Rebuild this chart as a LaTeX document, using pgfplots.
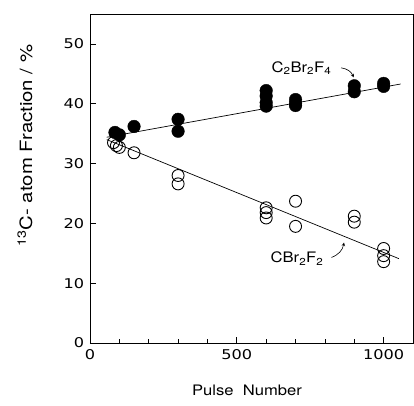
\documentclass[border=0pt]{standalone}
\usepackage{pgfplots}
\pgfplotsset{compat=1.18}
\usepackage{fontspec}
\setmainfont{TeX Gyre Heros}
\newfontfamily\widenum[FakeStretch=1.2]{DejaVu Sans}
\newfontfamily\widetxt[FakeStretch=1.15]{TeX Gyre Heros}
\newfontfamily\widelab[FakeStretch=1.2]{TeX Gyre Heros}
\begin{document}
\fontsize{14}{16}\selectfont
\begin{tikzpicture}
\begin{axis}[
  scale only axis, width=323bp, height=329bp,
  xmin=0, xmax=1100, ymin=0, ymax=55,
  xtick={0,500,1000}, minor xtick={100,200,300,400,600,700,800,900},
  ytick={0,10,20,30,40,50},
  tick align=inside, xtick pos=bottom, ytick pos=left,
  major tick length=6bp, minor tick length=4bp,
  every tick/.style={black, line width=0.8pt},
  axis line style={line width=0.8pt},
  /pgf/number format/assume math mode=true,
  /pgf/number format/1000 sep={},
  tick label style={font=\widenum\fontsize{13.5}{16}\selectfont},
  xticklabel style={yshift=-2bp},
  yticklabel style={xshift=-1bp},
  clip=false,
]
% fitted lines
\addplot[black, line width=0.7pt] coordinates {(57,34.4) (1058,43.3)};
\addplot[black, line width=0.7pt] coordinates {(57,34.0) (1052,14.1)};
% C2Br2F4 (filled)
\addplot[only marks, mark=*, mark size=6.3bp, mark options={fill=black, draw=black}] coordinates {
(85,35.2) (100,34.8) (150,36.2)
(300,37.4) (300,35.4)
(600,42.2) (600,41.3) (600,40.2) (600,39.6)
(700,40.7) (700,40.0) (700,39.7)
(900,43.0) (900,42.0)
(1000,43.4) (1000,42.9)
};
% CBr2F2 (open)
\addplot[only marks, mark=o, mark size=6bp, mark options={draw=black, fill=white, line width=0.9pt}] coordinates {
(80,33.5) (90,33.0) (100,32.7) (150,31.8)
(300,28.0) (300,26.6)
(600,22.6) (600,21.8) (600,20.9)
(700,23.7) (700,19.5)
(900,21.2) (900,20.2)
(1000,15.8) (1000,14.6) (1000,13.6)
};
\node[font=\widetxt\fontsize{14.5}{16}\selectfont] at (axis cs:720,46.0) {C\textsubscript{2}Br\textsubscript{2}F\textsubscript{4}};
\draw[->, >=stealth, line width=0.6pt] (axis cs:855,46.0) to[bend left=30] (axis cs:898,44.4);
\node[font=\widetxt\fontsize{14.5}{16}\selectfont] at (axis cs:705,14.1) {CBr\textsubscript{2}F\textsubscript{2}};
\draw[->, >=stealth, line width=0.6pt] (axis cs:822,14.3) to[bend right=30] (axis cs:865,16.8);
\node[font=\widetxt\fontsize{14.5}{16}\selectfont, anchor=center] at ([yshift=-47bp]axis description cs:0.486,0) {Pulse\ \ Number};
\node[font=\widelab\fontsize{17}{19}\selectfont, rotate=90, anchor=center] at ([xshift=-65bp]axis description cs:0,0.6) {\textsuperscript{13}C- atom Fraction / \%};
\end{axis}
\pgfresetboundingbox
\path (current axis.south west) ++(-90bp,-63bp) coordinate (bl);
\path (current axis.north east) ++(1bp,14bp) coordinate (tr);
\useasboundingbox (bl) rectangle (tr);
\end{tikzpicture}
\end{document}
